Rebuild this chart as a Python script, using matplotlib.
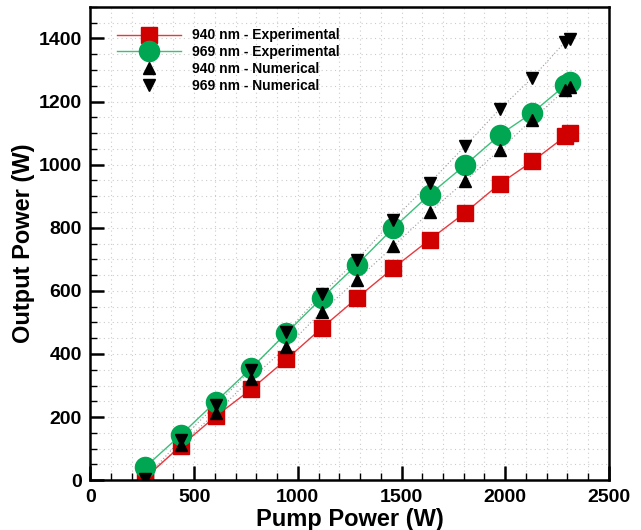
import matplotlib
matplotlib.use("Agg")
import matplotlib.pyplot as plt
from matplotlib.ticker import MultipleLocator

plt.rcParams['font.family'] = ['Liberation Sans', 'DejaVu Sans']
plt.rcParams['font.weight'] = 'bold'

# Données
pump = [265, 435, 605, 775, 945, 1115, 1285, 1460, 1635, 1805, 1975, 2130, 2290, 2310]
exp_940 = [8, 108, 203, 288, 383, 482, 577, 672, 762, 847, 940, 1010, 1090, 1100]
exp_969 = [42, 143, 249, 355, 466, 577, 683, 799, 905, 998, 1095, 1164, 1252, 1262]
num_940 = [5, 112, 214, 322, 421, 534, 635, 741, 849, 947, 1048, 1143, 1238, 1245]
num_969 = [5, 128, 238, 350, 470, 590, 698, 825, 942, 1058, 1177, 1275, 1390, 1397]

fig = plt.figure(figsize=(6.41, 5.30), dpi=100)
ax = fig.add_axes([0.141, 0.094, 0.809, 0.893])

# lignes pointillées des résultats numériques
ax.plot(pump, num_940, ls=(0, (1, 2)), color='#999999', lw=0.8, zorder=1)
ax.plot(pump, num_969, ls=(0, (1, 2)), color='#999999', lw=0.8, zorder=1)

ax.plot(pump, exp_940, '-s', color='#E8383D', mfc='#D10000', mec='#D10000',
        ms=12, lw=1.0, label='940 nm - Experimental', zorder=2)
ax.plot(pump, exp_969, '-o', color='#3CC07A', mfc='#00A651', mec='#00A651',
        ms=14.5, lw=1.0, label='969 nm - Experimental', zorder=3)
ax.plot(pump, num_940, '^', color='black', ms=9, ls='none',
        label='940 nm - Numerical', zorder=4)
ax.plot(pump, num_969, 'v', color='black', ms=9, ls='none',
        label='969 nm - Numerical', zorder=4)

ax.set_xlim(0, 2500)
ax.set_ylim(0, 1500)
ax.xaxis.set_major_locator(MultipleLocator(500))
ax.xaxis.set_minor_locator(MultipleLocator(100))
ax.yaxis.set_major_locator(MultipleLocator(200))
ax.yaxis.set_minor_locator(MultipleLocator(50))

ax.grid(which='both', ls=(0, (1, 3)), color='#CCCCCC', lw=0.8)
ax.set_axisbelow(True)

ax.tick_params(which='major', direction='in', length=10, width=1.8,
               labelsize=14, pad=6)
ax.tick_params(which='minor', direction='in', length=5, width=1.0)
ax.tick_params(top=False, right=False, which='both')
for lab in ax.get_xticklabels() + ax.get_yticklabels():
    lab.set_fontweight('bold')
for sp in ax.spines.values():
    sp.set_linewidth(1.8)

ax.set_xlabel('Pump Power (W)', fontsize=17, fontweight='bold', labelpad=2)
ax.set_ylabel('Output Power (W)', fontsize=17, fontweight='bold', labelpad=3)

ax.legend(loc='upper left', bbox_to_anchor=(0.033, 0.975), frameon=False,
          fontsize=10, handlelength=4.6, handletextpad=0.8, labelspacing=0.2,
          borderaxespad=0.3, numpoints=1)

fig.savefig('out.png', dpi=100)
